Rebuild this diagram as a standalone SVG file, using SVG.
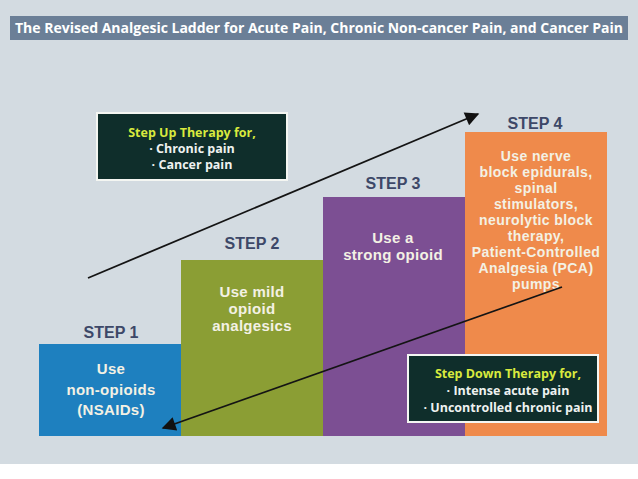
<svg xmlns="http://www.w3.org/2000/svg" width="638" height="479" viewBox="0 0 638 479">
<defs>
<style>
.t{font-family:"Open Sans","Liberation Sans",sans-serif;font-weight:bold;text-anchor:middle}
.step{font-family:"Liberation Sans",Arial,sans-serif;font-weight:bold;font-size:16px;fill:#3d4868;text-anchor:middle}
.bt{font-family:"Liberation Sans",Arial,sans-serif;font-weight:bold;font-size:15px;fill:#f3f1e4;text-anchor:middle;letter-spacing:0.3px}
.b4{font-family:"Liberation Sans",Arial,sans-serif;font-weight:bold;font-size:14px;fill:#f3f1e4;text-anchor:middle;letter-spacing:0.4px}
.hd{font-size:12.5px;fill:#d9ea3e}
.it{font-size:12.5px;fill:#eef2f0}
.box{fill:#0f2e2b;stroke:#f4f6f2;stroke-width:2}
.arr{stroke:#141414;stroke-width:1.8;fill:none}
</style>
<marker id="ah2" viewBox="0 0 10 10" refX="9" refY="5" markerWidth="16" markerHeight="14" markerUnits="userSpaceOnUse" orient="auto">
<path d="M0,0 L10,5 L0,10 z" fill="#111"/>
</marker>
</defs>
<rect x="0" y="0" width="638" height="464" fill="#d3dbe1"/>
<rect x="0" y="464" width="638" height="15" fill="#ffffff"/>
<g id="title">
<rect x="10" y="16" width="618" height="24" fill="#6b7f97"/>
<text class="t" x="319" y="33" font-size="13.5" fill="#ffffff" textLength="608" lengthAdjust="spacingAndGlyphs">The Revised Analgesic Ladder for Acute Pain, Chronic Non-cancer Pain, and Cancer Pain</text>
</g>
<g id="step1">
<rect x="39" y="344" width="143" height="92" fill="#1e80bf"/>
<text class="step" x="111" y="338">STEP 1</text>
<text class="bt" x="111" y="374">Use</text>
<text class="bt" x="111" y="395">non-opioids</text>
<text class="bt" x="111" y="415">(NSAIDs)</text>
</g>
<g id="step2">
<rect x="181" y="260" width="143" height="176" fill="#8b9e34"/>
<text class="step" x="252" y="249">STEP 2</text>
<text class="bt" x="252" y="297">Use mild</text>
<text class="bt" x="252" y="314">opioid</text>
<text class="bt" x="252" y="331">analgesics</text>
</g>
<g id="step3">
<rect x="323" y="197" width="142" height="239" fill="#7c4f93"/>
<text class="step" x="393" y="189">STEP 3</text>
<text class="bt" x="393" y="243">Use a</text>
<text class="bt" x="393" y="260">strong opioid</text>
</g>
<g id="step4">
<rect x="465" y="132" width="142" height="304" fill="#ef8a4b"/>
<text class="step" x="535" y="129">STEP 4</text>
<text class="b4" x="536" y="161">Use nerve</text>
<text class="b4" x="536" y="177">block epidurals,</text>
<text class="b4" x="536" y="193">spinal</text>
<text class="b4" x="536" y="209">stimulators,</text>
<text class="b4" x="536" y="225">neurolytic block</text>
<text class="b4" x="536" y="241">therapy,</text>
<text class="b4" x="536" y="257">Patient-Controlled</text>
<text class="b4" x="536" y="273">Analgesia (PCA)</text>
<text class="b4" x="536" y="289">pumps</text>
</g>
<g id="stepup">
<rect class="box" x="97" y="113" width="190" height="67"/>
<text class="t hd" x="192" y="137">Step Up Therapy for,</text>
<text class="t it" x="192" y="153">· Chronic pain</text>
<text class="t it" x="192" y="169">· Cancer pain</text>
</g>
<g id="stepdown">
<rect class="box" x="408" y="355" width="190" height="67"/>
<text class="t hd" x="508" y="378">Step Down Therapy for,</text>
<text class="t it" x="508" y="395">· Intense acute pain</text>
<text class="t it" x="508" y="412">· Uncontrolled chronic pain</text>
</g>
<g id="connectors">
<line class="arr" x1="88" y1="278" x2="478" y2="114" marker-end="url(#ah2)"/>
<line class="arr" x1="562" y1="287" x2="163" y2="428" marker-end="url(#ah2)"/>
</g>
</svg>
